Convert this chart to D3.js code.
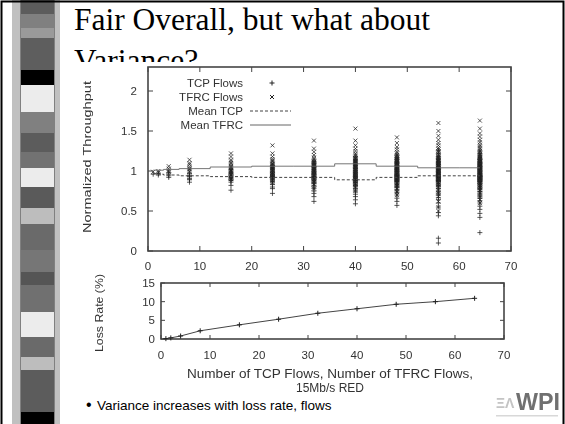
<!DOCTYPE html>
<html>
<head>
<meta charset="utf-8">
<script src="https://cdn.jsdelivr.net/npm/d3@7"></script>
<style>
  body { margin: 0; background: #fff; }
  svg { display: block; }
</style>
</head>
<body>
<div id="chart"></div>
<script>
// number of TCP (and TFRC) flows in each run
const flowCounts = [1, 2, 4, 8, 16, 24, 32, 40, 48, 56, 64];

// normalized throughput of each flow, one list per run
const tcpFlows = [
  [0.96],
  [0.95, 0.97],
  [0.92, 0.96, 0.98, 0.94],
  [0.86, 0.9, 0.93, 0.95, 0.97, 0.91, 0.89, 0.94],
  [0.76, 0.82, 0.86, 0.88, 0.9, 0.91, 0.92, 0.93, 0.94, 0.95, 0.96, 0.98, 1.0, 1.02, 0.89, 0.97],
  [0.72, 0.78, 0.8, 0.83, 0.85, 0.87, 0.88, 0.9, 0.91, 0.92, 0.93, 0.94, 0.95, 0.96, 0.97, 0.98, 1.0, 1.02, 1.04, 1.07, 0.89, 0.93, 0.95, 0.99],
  [0.62, 0.68, 0.72, 0.75, 0.78, 0.8, 0.82, 0.84, 0.85, 0.86, 0.87, 0.88, 0.89, 0.9, 0.91, 0.92, 0.93, 0.94, 0.95, 0.96, 0.97, 0.98, 0.99, 1.0, 1.02, 1.04, 1.06, 1.09, 1.12, 0.9, 0.93, 0.96],
  [0.59, 0.64, 0.68, 0.71, 0.74, 0.76, 0.78, 0.8, 0.81, 0.82, 0.83, 0.84, 0.85, 0.86, 0.87, 0.88, 0.89, 0.9, 0.91, 0.92, 0.93, 0.94, 0.95, 0.96, 0.97, 0.98, 0.99, 1.0, 1.01, 1.03, 1.05, 1.07, 1.1, 1.14, 1.18, 0.88, 0.91, 0.93, 0.86, 0.95],
  [0.57, 0.62, 0.66, 0.7, 0.73, 0.75, 0.77, 0.79, 0.8, 0.81, 0.82, 0.83, 0.84, 0.85, 0.86, 0.87, 0.87, 0.88, 0.89, 0.89, 0.9, 0.91, 0.91, 0.92, 0.93, 0.93, 0.94, 0.95, 0.95, 0.96, 0.97, 0.98, 0.99, 1.0, 1.01, 1.02, 1.03, 1.05, 1.07, 1.09, 1.11, 1.14, 1.17, 1.2, 0.9, 0.88, 0.94, 0.96],
  [0.1, 0.16, 0.44, 0.48, 0.55, 0.6, 0.64, 0.67, 0.7, 0.72, 0.74, 0.76, 0.78, 0.8, 0.81, 0.82, 0.83, 0.84, 0.85, 0.86, 0.87, 0.88, 0.88, 0.89, 0.9, 0.9, 0.91, 0.92, 0.92, 0.93, 0.94, 0.94, 0.95, 0.96, 0.96, 0.97, 0.98, 0.99, 1.0, 1.01, 1.02, 1.03, 1.04, 1.06, 1.08, 1.1, 1.12, 1.15, 1.18, 1.22, 1.26, 0.89, 0.93, 0.95, 0.87, 0.91],
  [0.23, 0.42, 0.47, 0.52, 0.56, 0.6, 0.63, 0.66, 0.68, 0.7, 0.72, 0.74, 0.75, 0.77, 0.78, 0.79, 0.8, 0.81, 0.82, 0.83, 0.84, 0.85, 0.85, 0.86, 0.87, 0.87, 0.88, 0.89, 0.89, 0.9, 0.9, 0.91, 0.91, 0.92, 0.92, 0.93, 0.93, 0.94, 0.94, 0.95, 0.95, 0.96, 0.97, 0.97, 0.98, 0.99, 1.0, 1.01, 1.02, 1.03, 1.04, 1.05, 1.07, 1.08, 1.1, 1.12, 1.14, 1.16, 1.19, 1.22, 1.25, 0.9, 0.93, 0.88]
];
const tfrcFlows = [
  [0.99],
  [1.0, 0.98],
  [1.03, 1.06, 0.99, 1.01],
  [1.14, 1.08, 1.02, 0.99, 1.05, 1.1, 1.0, 1.03],
  [1.22, 1.18, 1.14, 1.1, 1.08, 1.06, 1.04, 1.02, 1.0, 0.98, 0.95, 0.92, 1.12, 1.05, 0.9, 1.01],
  [1.32, 1.22, 1.18, 1.15, 1.12, 1.1, 1.08, 1.07, 1.06, 1.05, 1.04, 1.03, 1.02, 1.0, 0.98, 0.96, 0.94, 0.92, 0.88, 0.85, 1.09, 1.01, 1.05, 1.13],
  [1.38, 1.28, 1.24, 1.2, 1.17, 1.15, 1.13, 1.11, 1.1, 1.09, 1.08, 1.07, 1.06, 1.05, 1.04, 1.03, 1.02, 1.01, 1.0, 0.99, 0.97, 0.95, 0.93, 0.9, 0.87, 0.83, 0.78, 1.06, 1.08, 1.03, 1.12, 1.0],
  [1.53, 1.38, 1.32, 1.28, 1.25, 1.22, 1.2, 1.18, 1.16, 1.15, 1.14, 1.13, 1.12, 1.11, 1.1, 1.09, 1.08, 1.07, 1.06, 1.05, 1.04, 1.03, 1.02, 1.01, 1.0, 0.99, 0.98, 0.96, 0.94, 0.92, 0.9, 0.87, 0.84, 0.8, 0.75, 1.1, 1.12, 1.07, 1.05, 1.15],
  [1.42, 1.35, 1.3, 1.27, 1.24, 1.22, 1.2, 1.18, 1.17, 1.16, 1.15, 1.14, 1.13, 1.12, 1.11, 1.1, 1.1, 1.09, 1.08, 1.08, 1.07, 1.06, 1.06, 1.05, 1.04, 1.04, 1.03, 1.02, 1.01, 1.0, 0.99, 0.98, 0.97, 0.96, 0.94, 0.92, 0.9, 0.88, 0.85, 0.82, 0.78, 0.74, 0.7, 1.12, 1.05, 1.09, 1.02, 1.14],
  [1.6, 1.5, 1.44, 1.39, 1.35, 1.32, 1.29, 1.27, 1.25, 1.23, 1.21, 1.19, 1.18, 1.17, 1.16, 1.15, 1.14, 1.13, 1.12, 1.11, 1.1, 1.09, 1.08, 1.07, 1.06, 1.05, 1.04, 1.03, 1.02, 1.01, 1.0, 0.99, 0.98, 0.97, 0.95, 0.93, 0.91, 0.89, 0.86, 0.83, 0.8, 0.76, 0.72, 0.68, 0.62, 0.55, 0.5, 1.1, 1.06, 1.02, 1.13, 1.08, 1.04, 1.0, 0.96, 1.12],
  [1.63, 1.53, 1.47, 1.43, 1.39, 1.36, 1.33, 1.31, 1.29, 1.27, 1.25, 1.23, 1.21, 1.2, 1.19, 1.18, 1.17, 1.16, 1.15, 1.14, 1.13, 1.12, 1.12, 1.11, 1.1, 1.1, 1.09, 1.08, 1.08, 1.07, 1.06, 1.06, 1.05, 1.04, 1.04, 1.03, 1.02, 1.01, 1.0, 0.99, 0.98, 0.97, 0.96, 0.95, 0.93, 0.91, 0.89, 0.87, 0.85, 0.82, 0.79, 0.76, 0.72, 0.68, 0.64, 0.6, 1.1, 1.05, 1.0, 1.15, 1.08, 1.03, 0.97, 1.12]
];

const meanTcp  = [0.97, 0.96, 0.95, 0.94, 0.93, 0.92, 0.92, 0.89, 0.92, 0.94, 0.94];
const meanTfrc = [1.01, 1.01, 1.02, 1.03, 1.05, 1.06, 1.06, 1.09, 1.06, 1.04, 1.04];

// loss rate (%) for each run
const lossRate = [0.1, 0.3, 0.8, 2.2, 3.8, 5.3, 6.9, 8.1, 9.3, 10.0, 10.9];

const xTicks = [0, 10, 20, 30, 40, 50, 60, 70];
const yTicksTop = [0, 0.5, 1, 1.5, 2];
const yTicksLoss = [0, 5, 10, 15];
const legendLabels = ["TCP Flows", "TFRC Flows", "Mean TCP", "Mean TFRC"];

// decorative strip on the left of the slide: [top, bottom, grey]
const stripBlocks = [
  [0, 14, "#5c5c5c"], [28, 38, "#9a9a9a"], [38, 70, "#5e5e5e"], [70, 85, "#000"],
  [85, 112, "#ececec"], [133, 152, "#5c5c5c"], [152, 168, "#727272"], [168, 187, "#ececec"],
  [187, 208, "#5a5a5a"], [208, 224, "#bdbdbd"], [224, 250, "#6a6a6a"], [250, 272, "#767676"],
  [272, 285, "#555"], [285, 312, "#707070"], [312, 337, "#ececec"], [337, 357, "#6a6a6a"],
  [357, 370, "#bdbdbd"], [370, 412, "#5c5c5c"], [412, 424, "#000"]
];

const W = 565, H = 424;
const svg = d3.select("#chart").append("svg")
  .attr("width", W).attr("height", H);

svg.append("rect").attr("width", W).attr("height", H).attr("fill", "#fff");

// left strip
svg.append("rect").attr("x", 12).attr("y", 0).attr("width", 48).attr("height", H).attr("fill", "#c0c0c0");
svg.append("rect").attr("x", 20).attr("y", 0).attr("width", 35).attr("height", H).attr("fill", "#808080");
svg.selectAll(".blk").data(stripBlocks).enter().append("rect")
  .attr("x", 21).attr("width", 33)
  .attr("y", d => d[0]).attr("height", d => d[1] - d[0])
  .attr("fill", d => d[2]);

// slide border
svg.append("path").attr("d", `M1.5,${H} V1.5 H${W - 1.5} V${H}`)
  .attr("fill", "none").attr("stroke", "#000").attr("stroke-width", 2);

// title
const title = svg.append("text")
  .attr("font-family", "'Liberation Serif', 'Times New Roman', serif")
  .attr("font-size", 31.5).attr("fill", "#000");
title.append("tspan").attr("x", 74).attr("y", 30).text("Fair Overall, but what about");
title.append("tspan").attr("x", 74).attr("y", 71).text("Variance?");

// the chart picture sits on top of the second title line
svg.append("rect").attr("x", 68).attr("y", 62).attr("width", 478).attr("height", 326).attr("fill", "#fff");

const defs = svg.append("defs");
defs.append("filter").attr("id", "soft")
  .append("feGaussianBlur").attr("stdDeviation", 0.5);

const g = svg.append("g").attr("filter", "url(#soft)")
  .attr("font-family", "'Liberation Sans', Arial, sans-serif")
  .attr("fill", "#333");

const ink = "#444";

// ---------- top panel ----------
const x1 = d3.scaleLinear().domain([0, 70]).range([148, 511]);
const y1 = d3.scaleLinear().domain([0, 2.3]).range([251, 67]);

function frame(x, y, xt, yt, tick) {
  const [xa, xb] = x.range(), [ya, yb] = y.range();
  const f = g.append("g").attr("stroke", ink).attr("stroke-width", 1);
  xt.forEach(t => {
    f.append("line").attr("x1", x(t)).attr("x2", x(t)).attr("y1", ya).attr("y2", ya - tick);
    f.append("line").attr("x1", x(t)).attr("x2", x(t)).attr("y1", yb).attr("y2", yb + tick);
  });
  yt.forEach(t => {
    f.append("line").attr("y1", y(t)).attr("y2", y(t)).attr("x1", xa).attr("x2", xa + tick);
    f.append("line").attr("y1", y(t)).attr("y2", y(t)).attr("x1", xb).attr("x2", xb - tick);
  });
  f.append("rect").attr("x", xa).attr("y", yb).attr("width", xb - xa).attr("height", ya - yb)
    .attr("fill", "none").attr("stroke-width", 1.6);
}

frame(x1, y1, xTicks, yTicksTop, 5);

g.append("g").selectAll("text").data(yTicksTop).enter().append("text")
  .attr("x", 137).attr("y", d => y1(d) + 4).attr("text-anchor", "end")
  .attr("font-size", 11.5).text(d => d);
g.append("g").selectAll("text").data(xTicks).enter().append("text")
  .attr("x", d => x1(d)).attr("y", 270).attr("text-anchor", "middle")
  .attr("font-size", 11.5).text(d => d);

g.append("text").attr("transform", "translate(91,157) rotate(-90)")
  .attr("text-anchor", "middle").attr("font-size", 10.5)
  .attr("textLength", 152).attr("lengthAdjust", "spacingAndGlyphs")
  .text("Normalized Throughput");

// points
const plus = "M-2.5,0H2.5M0,-2.5V2.5";
const cross = "M-2,-2L2,2M-2,2L2,-2";
const tcpPts = [], tfrcPts = [];
flowCounts.forEach((n, i) => {
  tcpFlows[i].forEach(v => tcpPts.push([n, v]));
  tfrcFlows[i].forEach(v => tfrcPts.push([n, v]));
});
g.append("g").selectAll("path").data(tfrcPts).enter().append("path")
  .attr("d", cross).attr("transform", d => `translate(${x1(d[0])},${y1(d[1])})`)
  .attr("stroke", "#222").attr("stroke-width", 1).attr("fill", "none").attr("opacity", 0.75);
g.append("g").selectAll("path").data(tcpPts).enter().append("path")
  .attr("d", plus).attr("transform", d => `translate(${x1(d[0])},${y1(d[1])})`)
  .attr("stroke", "#222").attr("stroke-width", 1).attr("fill", "none").attr("opacity", 0.75);

const meanLine = d3.line().curve(d3.curveStep).x(d => x1(d[0])).y(d => y1(d[1]));
g.append("path").datum(flowCounts.map((n, i) => [n, meanTcp[i]]))
  .attr("d", meanLine).attr("fill", "none").attr("stroke", ink)
  .attr("stroke-width", 1).attr("stroke-dasharray", "3,2");
g.append("path").datum(flowCounts.map((n, i) => [n, meanTfrc[i]]))
  .attr("d", meanLine).attr("fill", "none").attr("stroke", "#666")
  .attr("stroke-width", 0.9);

// legend
const leg = g.append("g");
legendLabels.forEach((lab, i) => {
  const ly = 83 + i * 14;
  leg.append("text").attr("x", 243).attr("y", ly + 4).attr("text-anchor", "end")
    .attr("font-size", 11.5).text(lab);
  if (i === 0) leg.append("path").attr("d", plus).attr("transform", `translate(272,${ly})`)
    .attr("stroke", "#222").attr("fill", "none");
  if (i === 1) leg.append("path").attr("d", cross).attr("transform", `translate(272,${ly})`)
    .attr("stroke", "#222").attr("fill", "none");
  if (i >= 2) leg.append("line").attr("x1", 250).attr("x2", 291).attr("y1", ly).attr("y2", ly)
    .attr("stroke", i === 2 ? ink : "#666").attr("stroke-width", 1)
    .attr("stroke-dasharray", i === 2 ? "3,2" : null);
});

// ---------- loss rate panel ----------
const x2 = d3.scaleLinear().domain([0, 70]).range([161, 504]);
const y2 = d3.scaleLinear().domain([0, 15]).range([339, 283]);

frame(x2, y2, xTicks, yTicksLoss, 4);

g.append("g").selectAll("text").data(yTicksLoss).enter().append("text")
  .attr("x", 155).attr("y", d => y2(d) + 4).attr("text-anchor", "end")
  .attr("font-size", 11.5).text(d => d);
g.append("g").selectAll("text").data(xTicks).enter().append("text")
  .attr("x", d => x2(d)).attr("y", 359).attr("text-anchor", "middle")
  .attr("font-size", 11.5).text(d => d);

g.append("text").attr("transform", "translate(103,313) rotate(-90)")
  .attr("text-anchor", "middle").attr("font-size", 10.5)
  .attr("textLength", 78).attr("lengthAdjust", "spacingAndGlyphs")
  .text("Loss Rate (%)");

const lossPts = flowCounts.map((n, i) => [n, lossRate[i]]);
g.append("path").datum(lossPts)
  .attr("d", d3.line().x(d => x2(d[0])).y(d => y2(d[1])))
  .attr("fill", "none").attr("stroke", ink).attr("stroke-width", 1);
g.append("g").selectAll("path").data(lossPts).enter().append("path")
  .attr("d", plus).attr("transform", d => `translate(${x2(d[0])},${y2(d[1])})`)
  .attr("stroke", "#222").attr("fill", "none");

g.append("text").attr("x", 330).attr("y", 378).attr("text-anchor", "middle")
  .attr("font-size", 12).attr("textLength", 286).attr("lengthAdjust", "spacingAndGlyphs")
  .text("Number of TCP Flows, Number of TFRC Flows,");
g.append("text").attr("x", 330).attr("y", 392).attr("text-anchor", "middle")
  .attr("font-size", 12).text("15Mb/s RED");

// ---------- bullet and logo ----------
svg.append("text").attr("x", 86).attr("y", 410)
  .attr("font-family", "'Liberation Sans', Arial, sans-serif").attr("font-size", 16)
  .attr("fill", "#000").text("•");
svg.append("text").attr("x", 97).attr("y", 410)
  .attr("font-family", "'Liberation Sans', Arial, sans-serif").attr("font-size", 13.5)
  .attr("fill", "#000").text("Variance increases with loss rate, flows");

const logo = svg.append("g").attr("filter", "url(#soft)");
logo.append("text").attr("x", 496).attr("y", 408)
  .attr("font-family", "'Liberation Sans', Arial, sans-serif").attr("font-size", 14)
  .attr("font-weight", "bold").attr("fill", "#c4c4c4").text("ΞΛ");
logo.append("text").attr("x", 516).attr("y", 410)
  .attr("font-family", "'Liberation Sans', Arial, sans-serif").attr("font-size", 24)
  .attr("font-weight", "bold").attr("fill", "#707070").attr("textLength", 44)
  .attr("lengthAdjust", "spacingAndGlyphs").text("WPI");
logo.append("rect").attr("x", 496).attr("y", 415).attr("width", 62).attr("height", 1.5).attr("fill", "#d8d8d8");
</script>
</body>
</html>
